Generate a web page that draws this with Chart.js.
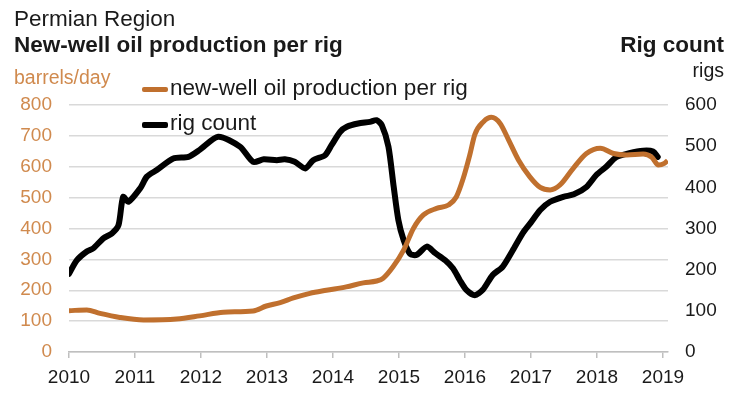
<!DOCTYPE html>
<html>
<head>
<meta charset="utf-8">
<script src="https://cdn.jsdelivr.net/npm/chart.js@4.4.1/dist/chart.umd.min.js"></script>
<style>
  html, body { margin: 0; padding: 0; background: #fff; }
  #wrap { position: relative; width: 740px; height: 399px; font-family: "Liberation Sans", Arial, sans-serif; color: #1a1a1a; }
  #wrap canvas { position: absolute; left: 0; top: 0; }
  .txt { position: absolute; line-height: 1; white-space: nowrap; }
  .swatch { position: absolute; width: 26px; height: 5px; border-radius: 2px; }
</style>
</head>
<body>
<div id="wrap">
  <canvas id="rigChart" width="740" height="399"></canvas>
  <div class="txt" style="left:14px; top:8px; font-size:22.5px;">Permian Region</div>
  <div class="txt" style="left:14px; top:34px; font-size:22.5px; font-weight:bold;">New-well oil production per rig</div>
  <div class="txt" style="right:16px; top:34px; font-size:22.5px; font-weight:bold;">Rig count</div>
  <div class="txt" style="left:14px; top:68px; font-size:19.5px; color:#d08a4e;">barrels/day</div>
  <div class="txt" style="right:16px; top:61px; font-size:19.5px;">rigs</div>
  <div class="swatch" style="left:142px; top:87px; background:#c0702e;"></div>
  <div class="txt" style="left:170px; top:77px; font-size:22.5px;">new-well oil production per rig</div>
  <div class="swatch" style="left:142px; top:122px; height:6px; background:#000;"></div>
  <div class="txt" style="left:170px; top:112px; font-size:22.5px;">rig count</div>
</div>
<script>
// anos do eixo x
const yearTicks = [2010, 2011, 2012, 2013, 2014, 2015, 2016, 2017, 2018, 2019];

// producao por sonda (barrels/day)
const prodDates = [2010.00, 2010.27, 2010.47, 2010.77, 2011.13, 2011.63, 2011.98, 2012.34, 2012.79, 2012.99,
  2013.20, 2013.40, 2013.65, 2013.90, 2014.20, 2014.46, 2014.66, 2014.76, 2014.91, 2015.07,
  2015.22, 2015.37, 2015.57, 2015.75, 2015.87, 2015.97, 2016.07, 2016.15, 2016.28, 2016.40,
  2016.53, 2016.66, 2016.81, 2016.98, 2017.14, 2017.29, 2017.44, 2017.64, 2017.84, 2018.05,
  2018.25, 2018.45, 2018.70, 2018.83, 2018.93, 2019.02, 2019.07];
const prodValues = [134, 136, 125, 112, 104, 107, 117, 129, 133, 149,
  160, 175, 190, 200, 211, 224, 230, 239, 276, 330,
  401, 444, 465, 476, 503, 560, 636, 705, 746, 760,
  741, 687, 622, 568, 533, 525, 541, 595, 643, 660,
  643, 638, 641, 631, 606, 611, 620];

// numero de sondas (rigs)
const rigDates = [2010.00, 2010.12, 2010.27, 2010.37, 2010.52, 2010.65, 2010.75, 2010.82, 2010.90, 2011.08,
  2011.18, 2011.33, 2011.58, 2011.81, 2011.98, 2012.26, 2012.59, 2012.79, 2012.95, 2013.15,
  2013.27, 2013.42, 2013.58, 2013.70, 2013.88, 2013.98, 2014.11, 2014.21, 2014.38, 2014.56,
  2014.66, 2014.74, 2014.84, 2014.92, 2014.99, 2015.07, 2015.17, 2015.27, 2015.42, 2015.55,
  2015.70, 2015.82, 2015.92, 2016.02, 2016.15, 2016.27, 2016.42, 2016.57, 2016.72, 2016.88,
  2017.00, 2017.14, 2017.29, 2017.49, 2017.65, 2017.84, 2017.99, 2018.14, 2018.29, 2018.49,
  2018.70, 2018.85, 2018.92];
const rigValues = [190, 223, 244, 252, 276, 288, 308, 377, 365, 398,
  426, 442, 470, 474, 491, 523, 499, 462, 468, 466,
  468, 462, 446, 466, 478, 503, 535, 547, 555, 559,
  563, 551, 499, 401, 321, 272, 238, 236, 256, 240,
  223, 203, 175, 151, 138, 151, 187, 207, 246, 290,
  315, 345, 365, 377, 383, 401, 430, 450, 473, 483,
  489, 487, 474];

const orange = "#c0702e";
const orangeText = "#d08a4e";
const tickFont = { family: "'Liberation Sans', Arial, sans-serif", size: 19 };

function toPoints(xs, ys) {
    return xs.map((x, i) => ({ x: x, y: ys[i] }));
}

const ctx = document.getElementById("rigChart").getContext("2d");

new Chart(ctx, {
    type: "line",
    data: {
        datasets: [
            {
                label: "new-well oil production per rig",
                data: toPoints(prodDates, prodValues),
                yAxisID: "y",
                borderColor: orange,
                borderWidth: 5,
                pointRadius: 0,
                fill: false,
                cubicInterpolationMode: "monotone"
            },
            {
                label: "rig count",
                data: toPoints(rigDates, rigValues),
                yAxisID: "y1",
                borderColor: "#000",
                borderWidth: 6,
                pointRadius: 0,
                fill: false,
                tension: 0.25,
                borderJoinStyle: "round",
                borderCapStyle: "round"
            }
        ]
    },
    options: {
        responsive: false,
        animation: false,
        layout: { padding: { top: 105, left: 0, right: 0, bottom: 0 } },
        plugins: {
            legend: { display: false },
            tooltip: { enabled: false }
        },
        scales: {
            x: {
                type: "linear",
                min: 2010,
                max: 2019.076,
                afterBuildTicks: (axis) => {
                    axis.ticks = yearTicks.map(v => ({ value: v }));
                },
                afterFit: (axis) => { axis.height = 47; },
                ticks: {
                    autoSkip: false,
                    maxRotation: 0,
                    padding: 8,
                    color: "#1a1a1a",
                    font: tickFont,
                    callback: (value) => String(value)
                },
                grid: {
                    drawOnChartArea: false,
                    drawTicks: true,
                    tickLength: 6,
                    color: "#bfbfbf",
                    lineWidth: 1.5
                },
                border: { display: true, color: "#bfbfbf", width: 1.5 }
            },
            y: {
                position: "left",
                min: 0,
                max: 800,
                afterFit: (axis) => { axis.width = 69; },
                ticks: { stepSize: 100, padding: 17, color: orangeText, font: tickFont },
                grid: { color: "#d9d9d9", lineWidth: 1.5, drawTicks: false },
                border: { display: false }
            },
            y1: {
                position: "right",
                min: 0,
                max: 600,
                afterFit: (axis) => { axis.width = 72; },
                ticks: { stepSize: 100, padding: 17, color: "#1a1a1a", font: tickFont },
                grid: { drawOnChartArea: false, drawTicks: false },
                border: { display: false }
            }
        }
    }
});
</script>
</body>
</html>
